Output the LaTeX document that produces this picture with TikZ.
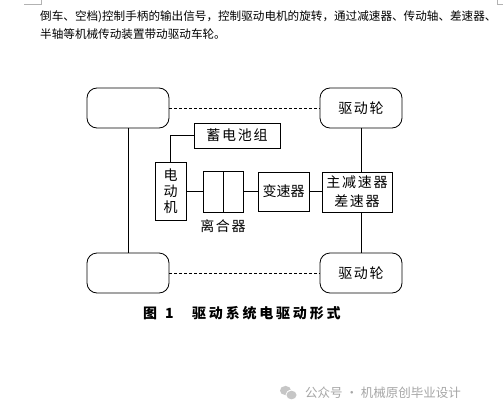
\documentclass[tikz,border=0pt]{standalone}
\usepackage{fontspec}
\setmainfont{Liberation Sans}
\newfontfamily\cjk{Noto Sans CJK SC}
\newfontfamily\cjkls[LetterSpace=12]{Noto Sans CJK SC}
\newfontfamily\cjkcap[LetterSpace=20]{Noto Sans CJK SC}
\begin{document}
\begin{tikzpicture}[x=1pt,y=-1pt,
  wheel/.style={draw,thick,rounded corners=10pt,minimum width=82pt,minimum height=40pt,inner sep=0pt},
  part/.style={draw,thick,inner sep=0pt},
  lbl/.style={font=\fontsize{14}{14}\selectfont\cjkls,inner sep=0pt},
  conn/.style={thick},
  dashline/.style={thick,dash pattern=on 3pt off 2pt}]
\useasboundingbox (0,0) rectangle (503,420);
\fill[white] (0,0) rectangle (503,420);
% corner marks
\draw[gray!60,line width=0.6pt] (24,4.5) -- (41,4.5) -- (41,0);
\draw[gray!60,line width=0.6pt] (503,4.5) -- (497,4.5) -- (497,0);
% top text
\node[anchor=west,inner sep=0pt,font=\fontsize{11.6}{12}\selectfont\cjk] (t1) at (40,17) {倒车、空档)控制手柄的输出信号，控制驱动电机的旋转，通过减速器、传动轴、差速器、};
\node[anchor=west,inner sep=0pt,font=\fontsize{11.6}{12}\selectfont\cjk] (t2) at (40,34) {半轴等机械传动装置带动驱动车轮。};
% wheels
\node[wheel] (wlt) at (128,108) {};
\node[wheel,lbl] (wrt) at (361,108) {驱动轮};
\node[wheel] (wlb) at (128,273) {};
\node[wheel,lbl] (wrb) at (361,273) {驱动轮};
% parts
\node[part,minimum width=86pt,minimum height=25pt,lbl] (bat) at (237,135.5) {蓄电池组};
\node[part,minimum width=31pt,minimum height=58pt] (mot) at (170.5,191) {};
\node[lbl,align=center,font=\fontsize{14}{16}\selectfont\cjk] (motl) at (mot.center) {电\\动\\机};
\node[part,minimum width=20pt,minimum height=41pt] (cl1) at (213,191.5) {};
\node[part,minimum width=20pt,minimum height=41pt] (cl2) at (233,191.5) {};
\node[lbl] (cll) at (223,226) {离合器};
\node[part,minimum width=51pt,minimum height=39pt,font=\fontsize{14}{14}\selectfont\cjk] (gear) at (283.5,191.5) {变速器};
\node[part,minimum width=70pt,minimum height=40pt] (diff) at (357,192) {};
\node[lbl,align=center,font=\fontsize{14}{19}\selectfont\cjkls] (diffl) at (diff.center) {主减速器\\差速器};
% connectors
\draw[dashline] (wlt.east) -- (wrt.west);
\draw[dashline] (wlb.east) -- (wrb.west);
\draw[conn] (wlt.south) -- (wlb.north);
\draw[conn] (wrt.south) -- (wrt.south |- diff.north);
\draw[conn] (wrb.north |- diff.south) -- (wrb.north);
\draw[conn] (bat.west) -| (mot.north);
\draw[conn] (mot.east |- 0,191) -- (cl1.west |- 0,191);
\draw[conn] (cl2.east |- 0,191) -- (gear.west |- 0,191);
\draw[conn] (gear.east |- 0,191) -- (diff.west |- 0,191);
% caption
\node[anchor=west,inner sep=0pt,font=\fontsize{14}{14}\selectfont\cjk\bfseries] (cap1) at (143,313) {图\hspace{8pt}1};
\node[anchor=west,inner sep=0pt,font=\fontsize{14}{14}\selectfont\cjkcap\bfseries] (cap2) at (192,313) {驱动系统电驱动形式};
% watermark
\fill[gray!45] (285.5,390.5) ellipse (5.5pt and 4.6pt);
\fill[white] (291.5,395) ellipse (6pt and 5.2pt);
\fill[gray!45] (291.5,395) ellipse (5pt and 4.3pt);
\node[anchor=west,inner sep=0pt,text=gray!70,font=\fontsize{12.5}{12}\selectfont\cjk] (wm) at (305,393) {公众号 · 机械原创毕业设计};
\end{tikzpicture}
\end{document}
